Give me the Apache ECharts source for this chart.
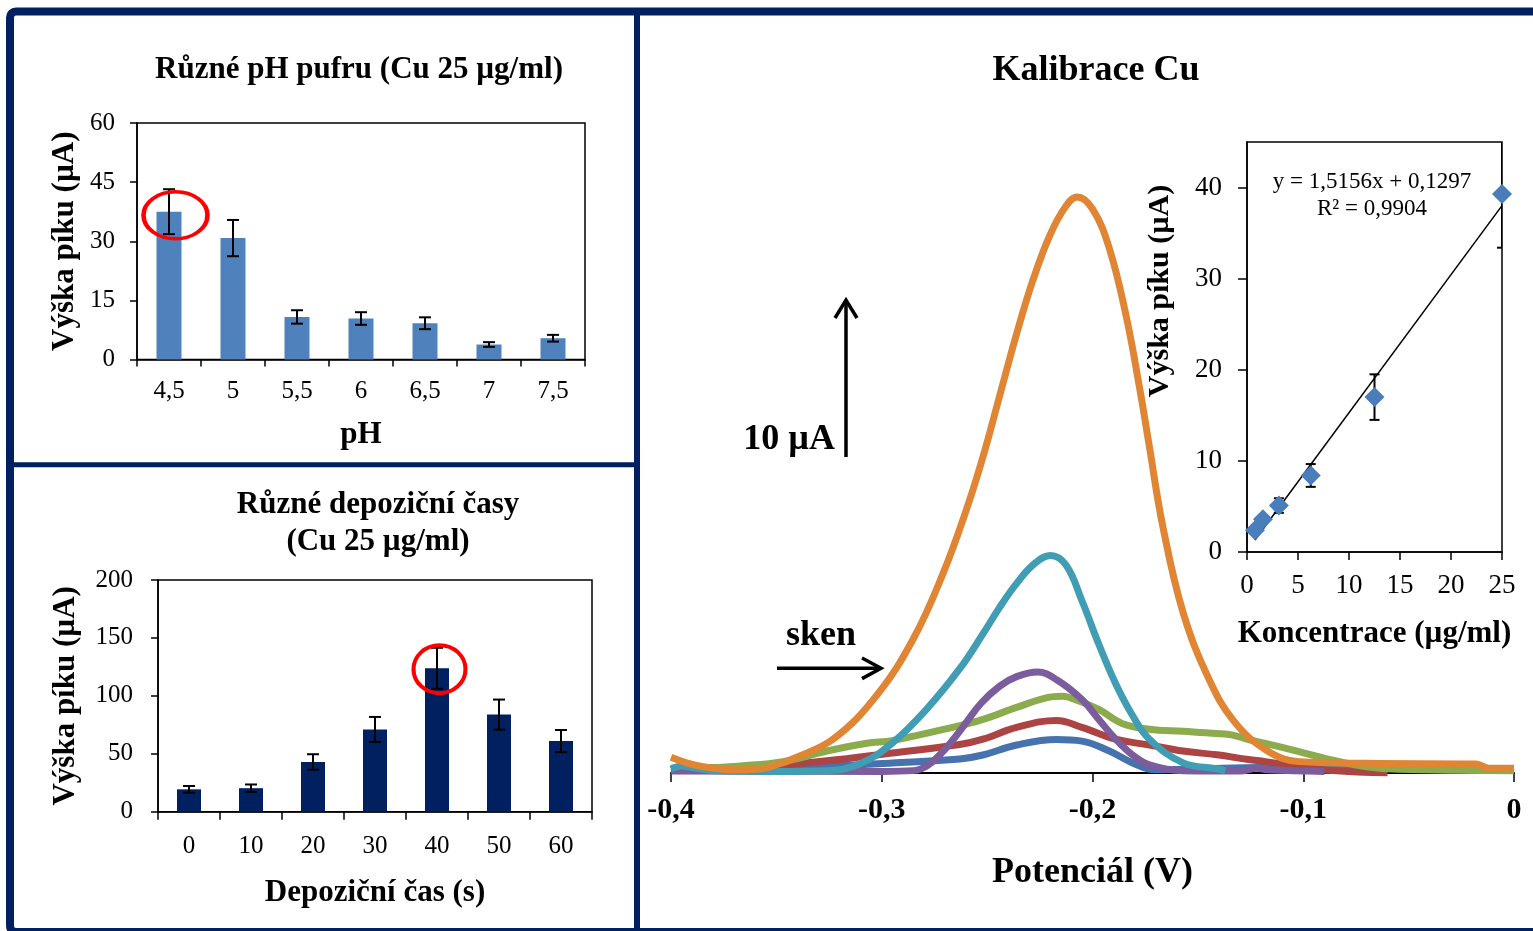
<!DOCTYPE html>
<html>
<head>
<meta charset="utf-8">
<script src="https://cdn.jsdelivr.net/npm/echarts@6/dist/echarts.min.js"></script>
<title>Kalibrace Cu</title>
<style>
html, body { margin: 0; padding: 0; background: #fff; }
#container { width: 1533px; height: 931px; }
</style>
</head>
<body>
<div id="container"></div>
<script>
// ---- data ----
// pH panel
var phCats = ['4,5', '5', '5,5', '6', '6,5', '7', '7,5'];
var phVals = [37.5, 30.8, 10.8, 10.4, 9.2, 3.8, 5.4];
var phErr = [5.7, 4.6, 1.7, 1.6, 1.5, 0.6, 0.85];

// deposition time panel
var timeCats = ['0', '10', '20', '30', '40', '50', '60'];
var timeVals = [19.3, 20.3, 42.9, 71.0, 123.8, 83.8, 61.0];
var timeErr = [2.9, 3.2, 6.7, 10.8, 17.7, 13.0, 9.5];

// calibration inset
var calX = [0.78, 1.56, 3.125, 6.25, 12.5, 25];
var calY = [2.4, 3.6, 5.1, 8.4, 17.0, 39.3];
var calErr = [0.3, 0.3, 0.8, 1.25, 2.5, 5.9];
var calTicks = [0, 10, 20, 30, 40];
var trendLine = [[0.78, 1.31], [25, 38.02]];

// voltammograms [potential V, current uA]
var cvBlue = [[-0.4, 0.3], [-0.358, 0.39], [-0.326, 0.45], [-0.295, 0.64], [-0.263, 0.89], [-0.252, 1.14],
  [-0.236, 1.77], [-0.217, 2.12], [-0.205, 2.02], [-0.192, 1.39], [-0.181, 0.64], [-0.17, 0.2],
  [-0.15, 0.25], [-0.12, 0.35], [-0.06, 0.3], [-0.04, 0.25]];
var cvRed = [[-0.385, 0.15], [-0.358, 0.39], [-0.326, 0.77], [-0.295, 1.27], [-0.263, 1.8], [-0.252, 2.14],
  [-0.236, 2.89], [-0.217, 3.33], [-0.205, 2.89], [-0.189, 2.14], [-0.173, 1.77], [-0.157, 1.39],
  [-0.141, 1.15], [-0.126, 0.85], [-0.118, 0.72], [-0.102, 0.4], [-0.086, 0.15], [-0.06, 0.0]];
var cvGreen = [[-0.4, 0.15], [-0.39, 0.25], [-0.367, 0.45], [-0.347, 0.72], [-0.326, 1.39], [-0.307, 1.88],
  [-0.295, 2.05], [-0.263, 3.0], [-0.252, 3.39], [-0.236, 4.15], [-0.222, 4.75], [-0.214, 4.85],
  [-0.208, 4.64], [-0.197, 4.02], [-0.186, 3.14], [-0.173, 2.77], [-0.157, 2.64], [-0.141, 2.5],
  [-0.1335, 2.4], [-0.126, 2.12], [-0.118, 1.88], [-0.102, 1.35], [-0.086, 0.82], [-0.07, 0.4],
  [-0.055, 0.23], [0, 0.15]];
var cvPurple = [[-0.4, 0.12], [-0.3, 0.1], [-0.285, 0.15], [-0.278, 0.5], [-0.27, 1.5], [-0.261, 3.0],
  [-0.253, 4.4], [-0.244, 5.5], [-0.236, 6.1], [-0.226, 6.39], [-0.217, 5.9], [-0.205, 4.65],
  [-0.197, 3.39], [-0.189, 2.14], [-0.181, 1.14], [-0.173, 0.51], [-0.157, 0.14], [-0.13, 0.12],
  [-0.122, 0.3], [-0.117, 0.2], [-0.09, 0.1]];
var cvTeal = [[-0.4, 0.25], [-0.395, 0.45], [-0.39, 0.35], [-0.38, 0.15], [-0.35, 0.1], [-0.326, 0.15],
  [-0.31, 0.6], [-0.295, 1.9], [-0.279, 4.0], [-0.263, 6.6], [-0.252, 8.8], [-0.244, 10.5],
  [-0.236, 12.0], [-0.228, 13.2], [-0.22, 13.77], [-0.2125, 13.15], [-0.205, 10.9], [-0.197, 8.15],
  [-0.189, 5.65], [-0.181, 3.64], [-0.173, 2.14], [-0.157, 0.64], [-0.141, 0.27], [-0.137, 0.14]];
var cvOrange = [[-0.4, 1.0], [-0.39, 0.55], [-0.38, 0.3], [-0.369, 0.2], [-0.358, 0.25], [-0.348, 0.6],
  [-0.342, 0.9], [-0.323, 2.15], [-0.3025, 4.9], [-0.285, 8.5], [-0.271, 12.6], [-0.26, 16.6],
  [-0.252, 20.0], [-0.244, 23.9], [-0.236, 27.8], [-0.228, 31.3], [-0.22, 34.1], [-0.2125, 35.9],
  [-0.2073, 36.46], [-0.2, 35.7], [-0.192, 33.2], [-0.184, 28.9], [-0.1777, 24.4], [-0.173, 20.65],
  [-0.1667, 15.65], [-0.157, 10.15], [-0.1446, 5.9], [-0.133, 3.3], [-0.1177, 1.46], [-0.102, 0.72],
  [-0.07, 0.61], [-0.018, 0.57], [-0.012, 0.3], [0, 0.3]];

var serif = 'Liberation Serif';
var navy = '#002060';

function errData(vals, errs, xs) {
  return vals.map(function (v, i) {
    return [xs ? xs[i] : i, v - errs[i], v + errs[i]];
  });
}

function errBar(capW) {
  return function (params, api) {
    var x = api.value(0);
    var hi = api.coord([x, api.value(2)]);
    var lo = api.coord([x, api.value(1)]);
    var st = { stroke: '#000', lineWidth: 2 };
    return {
      type: 'group',
      children: [
        { type: 'line', shape: { x1: hi[0], y1: hi[1], x2: lo[0], y2: lo[1] }, style: st },
        { type: 'line', shape: { x1: hi[0] - capW, y1: hi[1], x2: hi[0] + capW, y2: hi[1] }, style: st },
        { type: 'line', shape: { x1: lo[0] - capW, y1: lo[1], x2: lo[0] + capW, y2: lo[1] }, style: st }
      ]
    };
  };
}

var blackLine = { show: true, lineStyle: { color: '#000', width: 1.5 } };
function tick(len) { return { show: true, length: len, interval: 0, lineStyle: { color: '#000', width: 1.5 } }; }
function lbl(size, margin, bold) {
  return { color: '#000', fontFamily: serif, fontSize: size, margin: margin, fontWeight: bold ? 'bold' : 'normal', interval: 0 };
}
function nameStyle(size) {
  return { color: '#000', fontFamily: serif, fontSize: size, fontWeight: 'bold' };
}
function curve(data, color) {
  return { type: 'line', xAxisIndex: 2, yAxisIndex: 2, data: data, smooth: 0.4, showSymbol: false,
    lineStyle: { color: color, width: 7 } };
}

var myChart = echarts.init(document.getElementById('container'));

var option = {
  backgroundColor: '#fff',
  animation: false,
  title: [
    { text: 'Různé pH pufru (Cu 25 µg/ml)', left: 359, top: 52.5, textAlign: 'center', padding: 0,
      textStyle: { fontFamily: serif, fontSize: 31, fontWeight: 'bold', color: '#000', lineHeight: 34 } },
    { text: 'Různé depoziční časy\n(Cu 25 µg/ml)', left: 378, top: 486, textAlign: 'center', padding: 0,
      textStyle: { fontFamily: serif, fontSize: 31, fontWeight: 'bold', color: '#000', lineHeight: 37.5 } },
    { text: 'Kalibrace Cu', left: 1096, top: 51, textAlign: 'center', padding: 0,
      textStyle: { fontFamily: serif, fontSize: 36, fontWeight: 'bold', color: '#000', lineHeight: 40 } }
  ],
  grid: [
    { left: 137, top: 123, width: 448, height: 236.5, show: true, borderColor: '#000', borderWidth: 1.5 },
    { left: 158, top: 580, width: 434, height: 231.7, show: true, borderColor: '#000', borderWidth: 1.5 },
    { left: 671, top: 141, width: 843, height: 632, show: false },
    { left: 1247, top: 142, width: 255, height: 410, show: true, borderColor: '#000', borderWidth: 1.5 }
  ],
  xAxis: [
    { gridIndex: 0, type: 'category', data: phCats, axisLine: blackLine, axisTick: tick(7),
      axisLabel: lbl(25, 19.5), name: 'pH', nameLocation: 'middle', nameGap: 60, nameTextStyle: nameStyle(31) },
    { gridIndex: 1, type: 'category', data: timeCats, axisLine: blackLine, axisTick: tick(8),
      axisLabel: lbl(25, 22), name: 'Depoziční čas (s)', nameLocation: 'middle', nameGap: 66, nameTextStyle: nameStyle(31) },
    { gridIndex: 2, type: 'value', min: -0.4, max: 0, interval: 0.1, splitLine: { show: false },
      axisLine: { show: true, lineStyle: { color: '#000', width: 2 } }, axisTick: tick(9),
      axisLabel: Object.assign(lbl(30, 22, true), {
        formatter: function (v) { return v === 0 ? '0' : v.toFixed(1).replace('.', ','); }
      }),
      name: 'Potenciál (V)', nameLocation: 'middle', nameGap: 82, nameTextStyle: nameStyle(36) },
    { gridIndex: 3, type: 'value', min: 0, max: 25, interval: 5, splitLine: { show: false },
      axisLine: blackLine, axisTick: tick(8), axisLabel: lbl(27, 20),
      name: 'Koncentrace (µg/ml)', nameLocation: 'middle', nameGap: 66, nameTextStyle: nameStyle(31) }
  ],
  yAxis: [
    { gridIndex: 0, type: 'value', min: 0, max: 60, interval: 15, splitLine: { show: false },
      axisLine: blackLine, axisTick: tick(7), axisLabel: lbl(25, 22),
      name: 'Výška píku (µA)', nameLocation: 'middle', nameGap: 57, nameTextStyle: nameStyle(31) },
    { gridIndex: 1, type: 'value', min: 0, max: 200, interval: 50, splitLine: { show: false },
      axisLine: blackLine, axisTick: tick(7), axisLabel: lbl(25, 25),
      name: 'Výška píku (µA)', nameLocation: 'middle', nameGap: 77, nameTextStyle: nameStyle(31) },
    { gridIndex: 2, type: 'value', min: 0, max: 40, show: false },
    { gridIndex: 3, type: 'value', min: 0, max: 45, interval: 10, splitLine: { show: false },
      axisLine: blackLine,
      axisTick: { show: true, length: 9, lineStyle: { color: '#000', width: 1.5 }, customValues: calTicks },
      axisLabel: Object.assign(lbl(27, 25), { customValues: calTicks }),
      name: 'Výška píku (µA)', nameLocation: 'middle', nameGap: 72,
      nameTextStyle: Object.assign(nameStyle(30), { padding: [0, 0, 0, 112] }) }
  ],
  series: [
    // pH panel
    { type: 'bar', xAxisIndex: 0, yAxisIndex: 0, data: phVals, barWidth: 25, itemStyle: { color: '#4f81bd' } },
    { type: 'custom', xAxisIndex: 0, yAxisIndex: 0, renderItem: errBar(6), data: errData(phVals, phErr),
      encode: { x: 0, y: [1, 2] }, z: 3 },
    { type: 'scatter', xAxisIndex: 0, yAxisIndex: 0, data: [[0, 36.6]], symbol: 'circle',
      symbolSize: [64, 47], symbolOffset: [6.5, 0], silent: true, z: 4,
      itemStyle: { color: 'rgba(0,0,0,0)', borderColor: '#ff0000', borderWidth: 4, opacity: 1 } },

    // deposition time panel
    { type: 'bar', xAxisIndex: 1, yAxisIndex: 1, data: timeVals, barWidth: 24, itemStyle: { color: navy } },
    { type: 'custom', xAxisIndex: 1, yAxisIndex: 1, renderItem: errBar(6), data: errData(timeVals, timeErr),
      encode: { x: 0, y: [1, 2] }, z: 3 },
    { type: 'scatter', xAxisIndex: 1, yAxisIndex: 1, data: [[4, 123]], symbol: 'circle',
      symbolSize: [52, 48], symbolOffset: [2.5, 0], silent: true, z: 4,
      itemStyle: { color: 'rgba(0,0,0,0)', borderColor: '#ff0000', borderWidth: 4, opacity: 1 } },

    // voltammograms
    curve(cvBlue, '#4672ad'),
    curve(cvRed, '#ab4442'),
    curve(cvGreen, '#8bab4d'),
    curve(cvPurple, '#7b5c9c'),
    curve(cvTeal, '#409db4'),
    curve(cvOrange, '#e08533'),

    // calibration inset
    { type: 'line', xAxisIndex: 3, yAxisIndex: 3, data: trendLine, showSymbol: false, lineStyle: { color: '#000', width: 1.5 }, z: 3 },
    { type: 'custom', xAxisIndex: 3, yAxisIndex: 3, renderItem: errBar(5), data: errData(calY, calErr, calX),
      encode: { x: 0, y: [1, 2] }, clip: true, z: 4 },
    { type: 'scatter', xAxisIndex: 3, yAxisIndex: 3, data: calX.map(function (x, i) { return [x, calY[i]]; }),
      symbol: 'diamond', symbolSize: 20, itemStyle: { color: '#4a7ebb', opacity: 1 }, z: 5 }
  ],
  graphic: [
    // frame
    { type: 'rect', shape: { x: 10, y: 11.4, width: 1540, height: 920.6, r: 6 },
      style: { fill: 'none', stroke: navy, lineWidth: 8 }, z: 10 },
    { type: 'line', shape: { x1: 10, y1: 464.8, x2: 637, y2: 464.8 }, style: { stroke: navy, lineWidth: 5 }, z: 10 },
    { type: 'line', shape: { x1: 637, y1: 11, x2: 637, y2: 931 }, style: { stroke: navy, lineWidth: 6 }, z: 10 },
    // 10 uA scale arrow
    { type: 'line', shape: { x1: 846, y1: 457, x2: 846, y2: 301 }, style: { stroke: '#000', lineWidth: 3.5 } },
    { type: 'polyline', shape: { points: [[835, 318], [846, 300], [857, 318]] }, style: { stroke: '#000', lineWidth: 3.5, fill: 'none' } },
    { type: 'text', x: 835, y: 440, style: { text: '10 µA', fontFamily: serif, fontSize: 36, fontWeight: 'bold',
      fill: '#000', align: 'right', verticalAlign: 'middle' } },
    // scan direction arrow
    { type: 'line', shape: { x1: 777, y1: 668.3, x2: 880, y2: 668.3 }, style: { stroke: '#000', lineWidth: 3.5 } },
    { type: 'polyline', shape: { points: [[862, 658], [881, 668.3], [862, 678.6]] }, style: { stroke: '#000', lineWidth: 3.5, fill: 'none' } },
    { type: 'text', x: 821, y: 636, style: { text: 'sken', fontFamily: serif, fontSize: 36, fontWeight: 'bold',
      fill: '#000', align: 'center', verticalAlign: 'middle' } },
    // regression equation
    { type: 'text', x: 1372, y: 181.7, style: { text: 'y = 1,5156x + 0,1297', fontFamily: serif, fontSize: 23,
      fill: '#000', align: 'center', verticalAlign: 'middle' } },
    { type: 'text', x: 1372, y: 209, style: { text: 'R² = 0,9904', fontFamily: serif, fontSize: 23,
      fill: '#000', align: 'center', verticalAlign: 'middle' } }
  ]
};

myChart.setOption(option);
</script>
</body>
</html>
